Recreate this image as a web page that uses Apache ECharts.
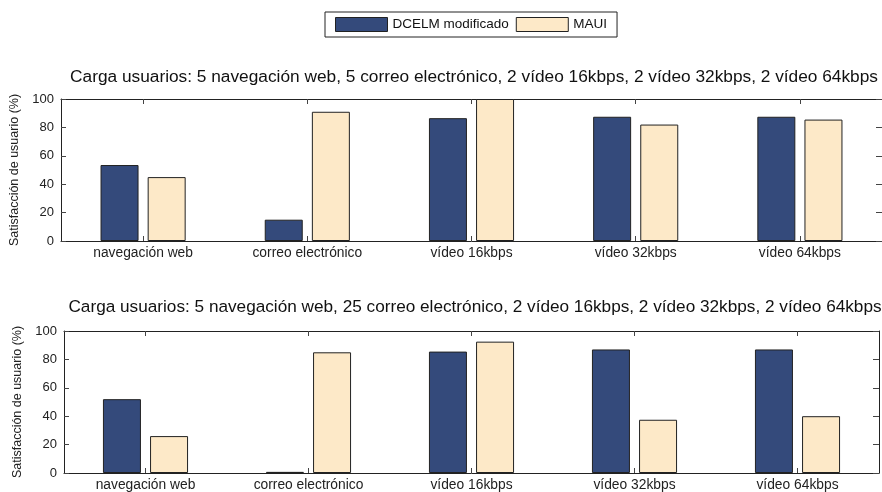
<!DOCTYPE html>
<html>
<head>
<meta charset="utf-8">
<script src="https://cdn.jsdelivr.net/npm/echarts@6/dist/echarts.min.js"></script>
<style>
  html, body { margin: 0; padding: 0; background: #fff; }
  #chart { width: 882px; height: 492px; }
</style>
</head>
<body>
<div id="chart"></div>
<script>
// data
var categories = ['navegación web', 'correo electrónico', 'vídeo 16kbps', 'vídeo 32kbps', 'vídeo 64kbps'];
var seriesNames = ['DCELM modificado', 'MAUI'];
var titles = [
  'Carga usuarios: 5 navegación web, 5 correo electrónico, 2 vídeo 16kbps, 2 vídeo 32kbps, 2 vídeo 64kbps',
  'Carga usuarios: 5 navegación web, 25 correo electrónico, 2 vídeo 16kbps, 2 vídeo 32kbps, 2 vídeo 64kbps'
];
var dcelmTop = [53.5, 15, 86.5, 87.5, 87.5];
var mauiTop = [45, 91, 100, 82, 85.5];
var dcelmBottom = [52, 0.8, 85.5, 87, 87];
var mauiBottom = [26, 85, 92.5, 37.5, 40];
var yTicks = [0, 20, 40, 60, 80, 100];

var font = 'Liberation Sans, Arial, Helvetica, sans-serif';
var dark = '#344a7b';
var light = '#fde9c8';
var lineColor = '#222';

var myChart = echarts.init(document.getElementById('chart'));

function xAxes(gi) {
  return [{
    type: 'category', gridIndex: gi, data: categories, position: 'bottom',
    axisLine: { onZero: false, lineStyle: { color: lineColor, width: 1 } },
    axisTick: { show: true, interval: 0, inside: true, alignWithLabel: true, length: 5, lineStyle: { color: '#444' } },
    axisLabel: { fontFamily: font, fontSize: 13.8, color: '#222', margin: 5 }
  }, {
    type: 'category', gridIndex: gi, data: categories, position: 'top',
    axisLine: { onZero: false, lineStyle: { color: lineColor, width: 1 } },
    axisTick: { show: true, interval: 0, inside: true, alignWithLabel: true, length: 5, lineStyle: { color: '#444' } },
    axisLabel: { show: false }
  }];
}

function yAxes(gi) {
  return [{
    type: 'value', gridIndex: gi, min: yTicks[0], max: yTicks[yTicks.length - 1], interval: 20,
    position: 'left',
    name: 'Satisfacción de usuario (%)', nameLocation: 'middle', nameGap: 35,
    nameTextStyle: { fontFamily: font, fontSize: 12.5, color: '#222' },
    axisLine: { show: true, onZero: false, lineStyle: { color: lineColor, width: 1 } },
    axisTick: { show: true, inside: true, length: 5, lineStyle: { color: '#444' } },
    axisLabel: { fontFamily: font, fontSize: 13, color: '#222', margin: 7 },
    splitLine: { show: false }
  }, {
    type: 'value', gridIndex: gi, min: yTicks[0], max: yTicks[yTicks.length - 1], interval: 20,
    position: 'right',
    axisLine: { show: true, onZero: false, lineStyle: { color: lineColor, width: 1 } },
    axisTick: { show: true, inside: true, length: 6, lineStyle: { color: '#444' } },
    axisLabel: { show: false },
    splitLine: { show: false }
  }];
}

function barSeries(name, data, gi, color) {
  return {
    name: name, type: 'bar', data: data,
    xAxisIndex: gi * 2, yAxisIndex: gi * 2,
    barWidth: 38, barGap: '24%',
    itemStyle: { color: color, borderColor: lineColor, borderWidth: 1 },
    emphasis: { disabled: true }
  };
}

option = {
  animation: false,
  backgroundColor: '#fff',
  legend: {
    data: seriesNames,
    left: 325, top: 12,
    padding: [5, 10, 5, 10],
    itemWidth: 52, itemHeight: 14, itemGap: 7,
    borderColor: '#222', borderWidth: 1,
    textStyle: { fontFamily: font, fontSize: 13.5, color: '#111' },
    icon: 'rect',
    itemStyle: { borderColor: lineColor, borderWidth: 1 }
  },
  title: [{
    text: titles[0], left: 469, top: 64, textAlign: 'center',
    textStyle: { fontFamily: font, fontSize: 17.3, fontWeight: 'normal', color: '#111' }
  }, {
    text: titles[1], left: 470, top: 294, textAlign: 'center',
    textStyle: { fontFamily: font, fontSize: 17.2, fontWeight: 'normal', color: '#111' }
  }],
  grid: [
    { left: 61, right: 0, top: 99, height: 142 },
    { left: 64, right: 3, top: 331, height: 142 }
  ],
  xAxis: xAxes(0).concat(xAxes(1)),
  yAxis: yAxes(0).concat(yAxes(1)),
  series: [
    barSeries(seriesNames[0], dcelmTop, 0, dark),
    barSeries(seriesNames[1], mauiTop, 0, light),
    barSeries(seriesNames[0], dcelmBottom, 1, dark),
    barSeries(seriesNames[1], mauiBottom, 1, light)
  ]
};

myChart.setOption(option);
</script>
</body>
</html>
